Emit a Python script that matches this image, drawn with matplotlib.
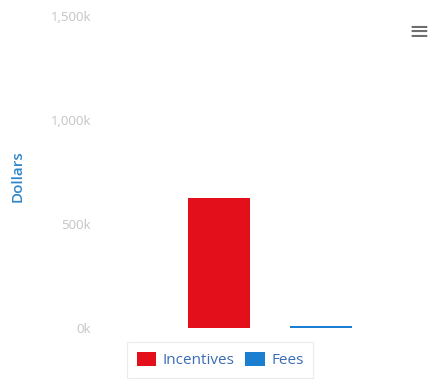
import matplotlib
matplotlib.use("Agg")
import matplotlib.pyplot as plt
from matplotlib.ticker import FuncFormatter

# data
series = ["Incentives", "Fees"]
values = [625000, 12000]
colors = ["#e3101b", "#1a7fd1"]
yticks = [0, 500000, 1000000, 1500000]

plt.rcParams['font.family'] = ['Open Sans', 'DejaVu Sans']

fig = plt.figure(figsize=(4.32, 3.81), dpi=100)
W, H = 432, 381
ax = fig.add_axes([105 / W, (H - 328) / H, 295 / W, 312 / H])

xpos = [0, 1]
bars = ax.bar(xpos, values, width=0.6, color=colors, label=series)

# map pixels: bar centers at 219 and 321 px, 102 px per unit
ax.set_xlim((105 - 219) / 102, (400 - 219) / 102)
ax.set_ylim(0, 1500000)
ax.set_yticks(yticks)
ax.yaxis.set_major_formatter(FuncFormatter(lambda v, p: f"{int(v / 1000):,}k"))
ax.tick_params(axis='y', length=0, pad=10, labelsize=9.5, labelcolor="#c4c4c4")
ax.set_xticks([])
for s in ax.spines.values():
    s.set_visible(False)

fig.text(18 / W, 1 - 176 / H, "Dollars", rotation=90, color="#2f86c9",
         fontsize=11, fontweight='semibold', ha='center', va='center')

leg = fig.legend(handles=bars, labels=series, loc='center',
                 bbox_to_anchor=(220 / W, 1 - 360 / H), ncol=2, frameon=True,
                 fontsize=11, handlelength=1.3, handleheight=1.1,
                 columnspacing=0.7, handletextpad=0.4, borderpad=0.35,
                 borderaxespad=0)
leg.get_frame().set_edgecolor("#e6e6e6")
leg.get_frame().set_linewidth(0.8)
leg.get_frame().set_boxstyle("square")
for t in leg.get_texts():
    t.set_color("#3a6cb5")

fig.text(419 / W, 1 - 32 / H, "≡", color="#6e6e6e", fontsize=18,
         ha='center', va='center', family='DejaVu Sans')

fig.savefig("out.png", dpi=100)
